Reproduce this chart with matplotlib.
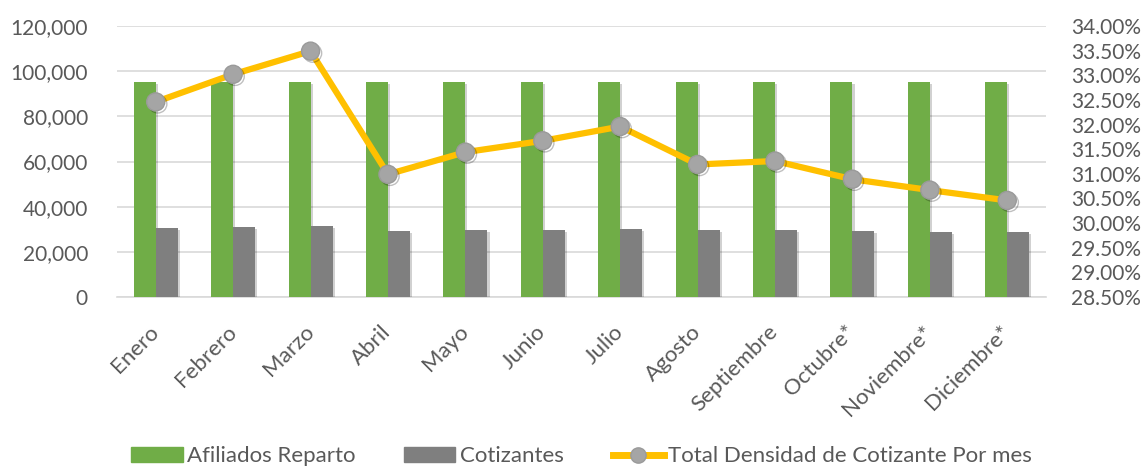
import matplotlib
matplotlib.use("Agg")
import matplotlib.pyplot as plt
import numpy as np
from matplotlib.ticker import FuncFormatter, MultipleLocator
from matplotlib.lines import Line2D
from matplotlib.patches import Patch
import matplotlib.patheffects as pe

months = ["Enero", "Febrero", "Marzo", "Abril", "Mayo", "Junio", "Julio",
          "Agosto", "Septiembre", "Octubre*", "Noviembre*", "Diciembre*"]
afiliados = [95100, 95100, 95100, 95100, 95100, 95100, 95100,
             95100, 95100, 95100, 95100, 95100]
cotizantes = [30430, 31000, 31630, 29240, 29700, 29850, 30130,
              29550, 29550, 29240, 28950, 28660]
densidad = [32.46, 33.02, 33.49, 30.99, 31.44, 31.67, 31.96,
            31.19, 31.26, 30.89, 30.67, 30.46]

plt.rcParams['font.family'] = ['Lato', 'DejaVu Sans']
txt = '#595959'
green = '#70AD47'
grey = '#7F7F7F'
gold = '#FFC000'
marker_grey = '#A5A5A5'

fig = plt.figure(figsize=(11.43, 4.68), dpi=100)
ax = fig.add_axes([0.1024, 0.3654, 0.8127, 0.579])
x = np.arange(len(months))
w = 0.285
shadow = [pe.SimplePatchShadow(offset=(1.5, -1.5), shadow_rgbFace='#000000', alpha=0.18), pe.Normal()]
b1 = ax.bar(x - w/2, afiliados, w, color=green, zorder=3, path_effects=shadow)
b2 = ax.bar(x + w/2, cotizantes, w, color=grey, zorder=3, path_effects=shadow)
ax.set_ylim(0, 120000)
ax.set_xlim(-0.5, len(months) - 0.5)
ax.yaxis.set_major_locator(MultipleLocator(20000))
ax.yaxis.set_major_formatter(FuncFormatter(lambda v, p: f"{int(v):,}"))
ax.grid(axis='y', color='#D9D9D9', linewidth=1.2, zorder=0)
ax.set_axisbelow(True)
for s in ['top', 'right', 'left']:
    ax.spines[s].set_visible(False)
ax.spines['bottom'].set_color('#D9D9D9')
ax.spines['bottom'].set_linewidth(1.2)
ax.tick_params(axis='y', length=0, labelsize=15, labelcolor=txt, pad=21)
ax.tick_params(axis='x', length=0, labelsize=16, labelcolor=txt, pad=23)
ax.set_xticks(x)
ax.set_xticklabels(months, rotation=45, ha='right', va='center', rotation_mode='anchor')

ax2 = ax.twinx()
ax2.set_ylim(28.5, 34.0)
ax2.yaxis.set_major_locator(MultipleLocator(0.5))
ax2.yaxis.set_major_formatter(FuncFormatter(lambda v, p: f"{v:.2f}%"))
for s in ax2.spines.values():
    s.set_visible(False)
ax2.tick_params(axis='y', length=0, labelsize=15, labelcolor=txt, pad=18)
mshadow = [pe.SimpleLineShadow(offset=(1.5, -1.5), alpha=0.25), pe.Normal()]
ax2.plot(x, densidad, color=gold, linewidth=4.5, zorder=4, solid_capstyle='round')
ax2.plot(x, densidad, linestyle='none', marker='o', markersize=13,
         markerfacecolor=marker_grey, markeredgecolor='#9A9A9A', zorder=5,
         path_effects=mshadow)

handles = [Patch(color=green), Patch(color=grey),
           Line2D([0], [0], color=gold, linewidth=5, marker='o', markersize=11,
                  markerfacecolor=marker_grey, markeredgecolor='#9A9A9A')]
labels = ["Afiliados Reparto", "Cotizantes", "Total Densidad de Cotizante Por mes"]
leg = fig.legend(handles, labels, loc='center', bbox_to_anchor=(0.509, 0.025),
                 ncol=3, frameon=False, fontsize=16, handlelength=2.3,
                 handleheight=0.65, handletextpad=0.2, columnspacing=2.2)
for t in leg.get_texts():
    t.set_color(txt)

fig.savefig("out.png", dpi=100, facecolor='white')
